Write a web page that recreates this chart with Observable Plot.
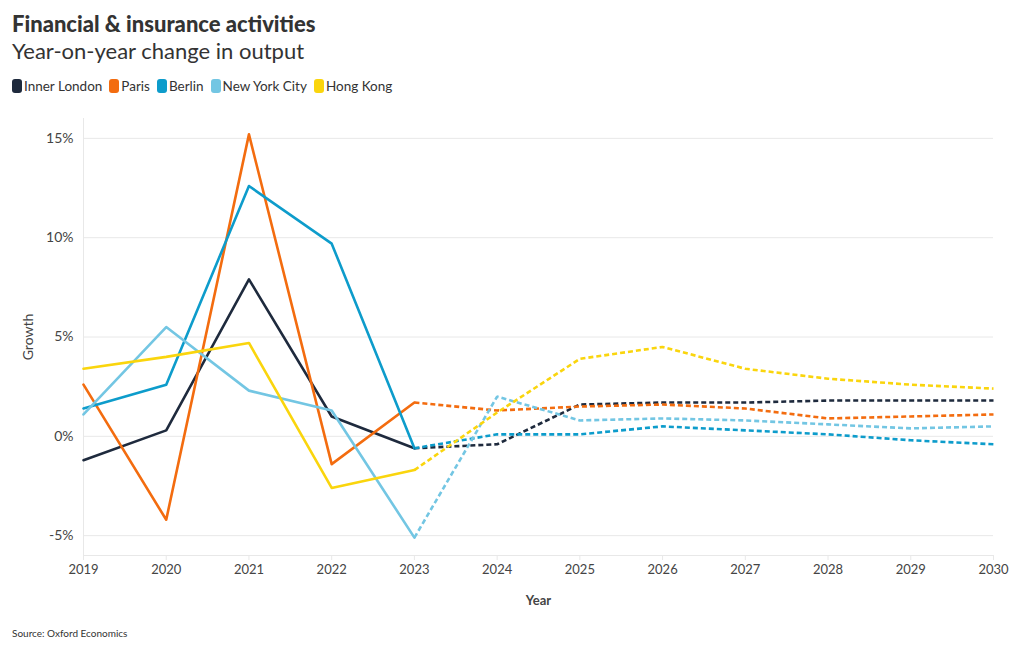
<!DOCTYPE html>
<html>
<head>
<meta charset="utf-8">
<script src="https://cdn.jsdelivr.net/npm/d3@7"></script>
<script src="https://cdn.jsdelivr.net/npm/@observablehq/plot@0.6"></script>
<style>
  body { margin: 0; background: #fff; font-family: "Source Sans Pro", Lato, sans-serif; color: #333; }
  #wrap { position: relative; width: 1020px; height: 650px; }
  #title { position: absolute; left: 12px; top: 10px; font-size: 22px; font-weight: 900; color: #333; white-space: nowrap; }
  #subtitle { position: absolute; left: 12px; top: 37px; font-size: 22px; font-weight: 400; color: #333; white-space: nowrap; }
  #legend { position: absolute; left: 12px; top: 78px; font-size: 13.5px; color: #333; display: flex; gap: 7px; white-space: nowrap; }
  #legend .item { display: flex; align-items: center; }
  #legend .sw { width: 10px; height: 14px; border-radius: 3px; margin-right: 2px; display: inline-block; }
  #chart { position: absolute; left: 0; top: 108px; }
  #source { position: absolute; left: 12px; top: 627px; font-size: 10px; color: #333; }
  #chart svg [aria-label="x-axis label"] text { font-weight: 700; }
</style>
</head>
<body>
<div id="wrap">
  <div id="title">Financial &amp; insurance activities</div>
  <div id="subtitle">Year-on-year change in output</div>
  <div id="legend"></div>
  <div id="chart"></div>
  <div id="source">Source: Oxford Economics</div>
</div>
<script>
const years = [2019, 2020, 2021, 2022, 2023, 2024, 2025, 2026, 2027, 2028, 2029, 2030];
const lastActual = 2023;
const cities = ["Inner London", "Paris", "Berlin", "New York City", "Hong Kong"];
const colors = ["#1e2a3d", "#f36c0f", "#0d9ccb", "#73c6e3", "#fad50d"];
const innerLondon = [-1.2, 0.3, 7.9, 1.0, -0.6, -0.4, 1.6, 1.7, 1.7, 1.8, 1.8, 1.8];
const paris       = [2.6, -4.2, 15.2, -1.4, 1.7, 1.3, 1.5, 1.6, 1.4, 0.9, 1.0, 1.1];
const berlin      = [1.4, 2.6, 12.6, 9.7, -0.6, 0.1, 0.1, 0.5, 0.3, 0.1, -0.2, -0.4];
const newYorkCity = [1.1, 5.5, 2.3, 1.3, -5.1, 2.0, 0.8, 0.9, 0.8, 0.6, 0.4, 0.5];
const hongKong    = [3.4, 4.0, 4.7, -2.6, -1.7, 1.2, 3.9, 4.5, 3.4, 2.9, 2.6, 2.4];
const yTicks = [-5, 0, 5, 10, 15];

const series = [innerLondon, paris, berlin, newYorkCity, hongKong];
const rows = [];
cities.forEach((c, i) => years.forEach((y, j) => rows.push({city: c, year: y, value: series[i][j]})));
const actual = rows.filter(d => d.year <= lastActual);
const forecast = rows.filter(d => d.year >= lastActual);

// legend
const lg = document.getElementById("legend");
cities.forEach((c, i) => {
  const it = document.createElement("span");
  it.className = "item";
  it.innerHTML = `<span class="sw" style="background:${colors[i]}"></span>${c}`;
  lg.appendChild(it);
});

const grid = "#e8e8e8";
const chart = Plot.plot({
  width: 1020,
  height: 500,
  marginTop: 10,
  marginBottom: 53,
  marginLeft: 83,
  marginRight: 27,
  style: { fontFamily: '"Source Sans Pro", Lato, sans-serif', fontSize: "13px", color: "#444", background: "#fff" },
  x: { domain: [2019, 2030] },
  y: { domain: [-6, 16] },
  color: { domain: cities, range: colors },
  marks: [
    Plot.gridY(yTicks, { stroke: grid, strokeOpacity: 1 }),
    Plot.ruleX([2019], { stroke: grid, strokeOpacity: 1, y1: -6, y2: 16 }),
    Plot.ruleY([-6], { stroke: grid, strokeOpacity: 1 }),
    Plot.axisY(yTicks, { tickFormat: d => d + "%", tickSize: 0, tickPadding: 10, label: "Growth", labelAnchor: "center", labelArrow: "none", labelOffset: 60, fontSize: 14 }),
    Plot.axisX(years, { tickFormat: d => String(d), tickSize: 5, stroke: grid, tickPadding: 4, label: "Year", labelAnchor: "center", labelArrow: "none", labelOffset: 49, fontSize: 13 }),
    Plot.line(actual, { x: "year", y: "value", z: "city", stroke: "city", strokeWidth: 2.6 }),
    Plot.line(forecast, { x: "year", y: "value", z: "city", stroke: "city", strokeWidth: 2.6, strokeDasharray: "5 3", strokeLinecap: "butt", strokeLinejoin: "miter" })
  ]
});
document.getElementById("chart").appendChild(chart);
</script>
</body>
</html>
